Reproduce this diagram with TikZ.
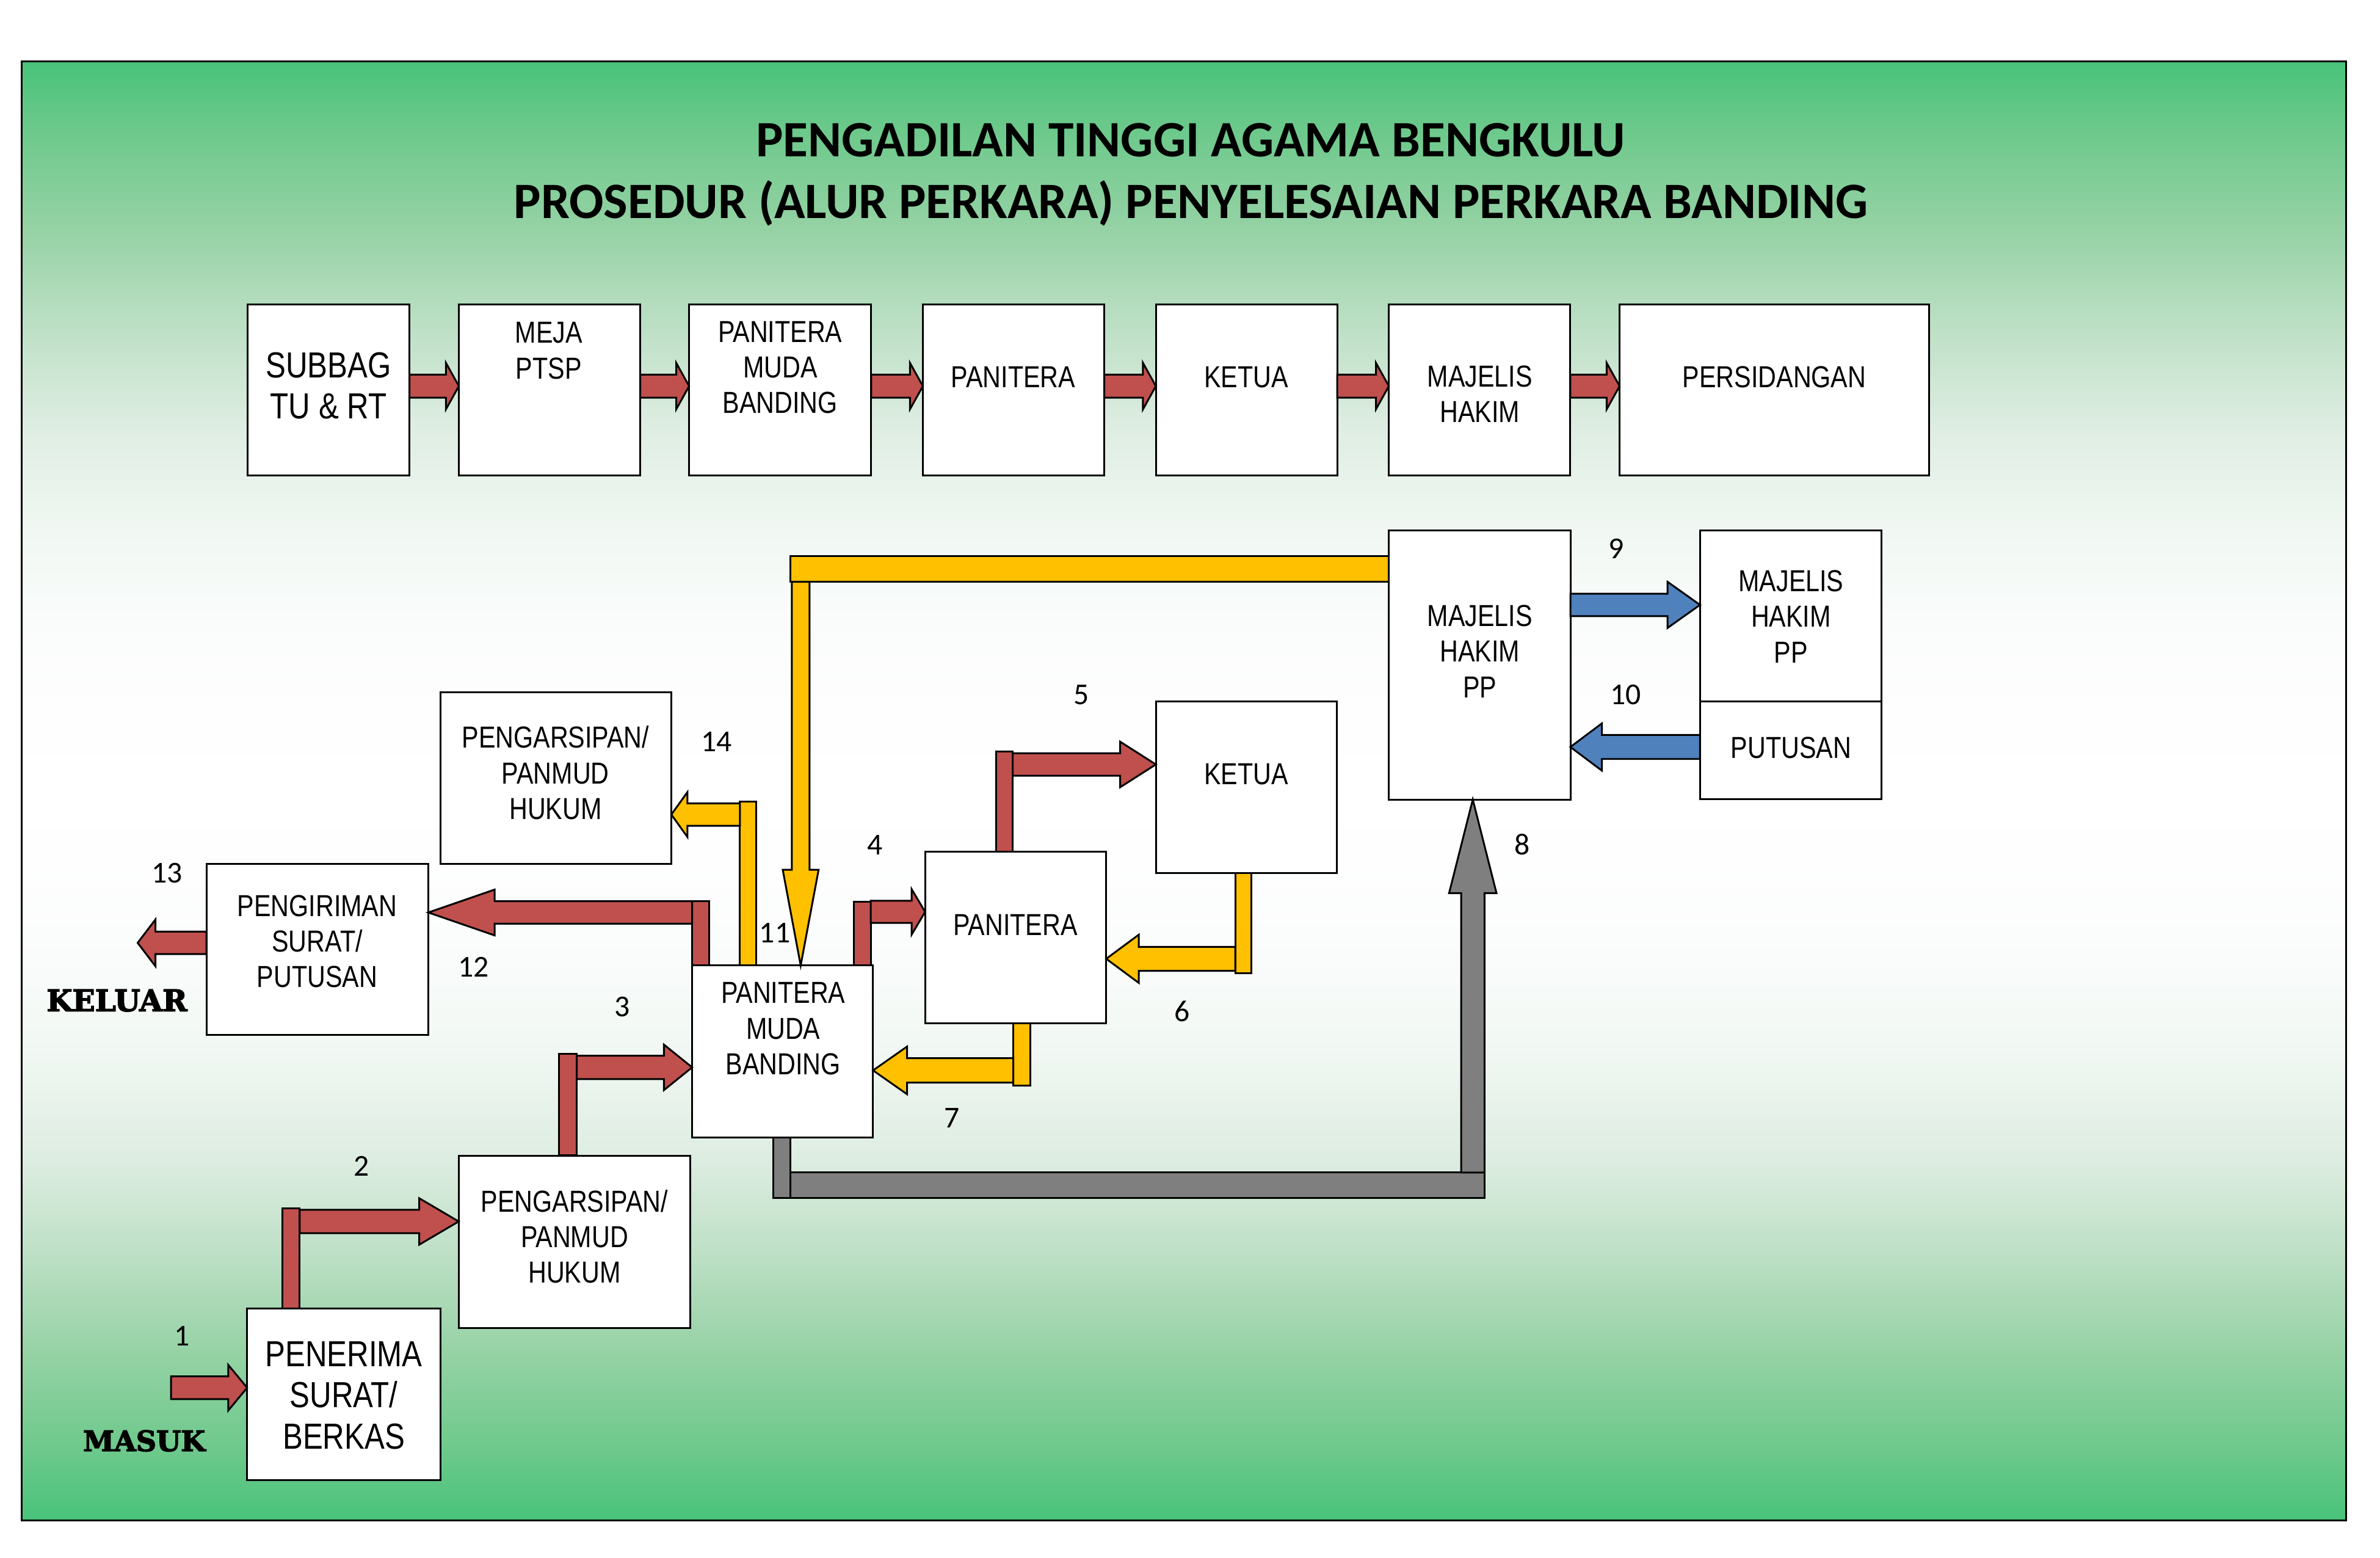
\documentclass[tikz,border=0pt]{standalone}
\usepackage{fontspec}
\usetikzlibrary{calc}
\setmainfont{Liberation Sans}
\newfontfamily\boxfont[FakeStretch=0.83]{Liberation Sans}
\newfontfamily\numfont{Carlito}
\newfontfamily\heavyfont[BoldFeatures={FakeBold=3}]{DejaVu Serif}

\definecolor{panelA}{RGB}{72,195,122}
\definecolor{panelB}{RGB}{110,201,140}
\definecolor{panelC}{RGB}{150,210,165}
\definecolor{panelD}{RGB}{190,224,198}
\definecolor{panelE}{RGB}{222,237,226}
\definecolor{panelF}{RGB}{240,247,242}
\definecolor{panelG}{RGB}{250,252,251}
\definecolor{panelH}{RGB}{254,254,254}
\definecolor{flowred}{RGB}{192,80,77}
\definecolor{flowyellow}{RGB}{255,192,0}
\definecolor{flowblue}{RGB}{79,129,189}
\definecolor{flowgrey}{RGB}{127,127,127}

\pgfdeclareverticalshading{panelshade}{100bp}{color(0bp)=(panelA); color(25bp)=(panelA); color(27.5bp)=(panelB); color(30.8bp)=(panelC); color(34.2bp)=(panelD); color(37.5bp)=(panelE); color(40.9bp)=(panelF); color(44.2bp)=(panelG); color(47.5bp)=(panelH); color(50bp)=(white); color(52.5bp)=(panelH); color(55.8bp)=(panelG); color(59.1bp)=(panelF); color(62.5bp)=(panelE); color(65.8bp)=(panelD); color(69.2bp)=(panelC); color(72.5bp)=(panelB); color(75bp)=(panelA); color(100bp)=(panelA)}

\tikzset{every picture/.style={line width=0.9pt},
	boxnode/.style={draw,fill=white,inner sep=0pt,outer sep=0pt},
	boxtext/.style={inner sep=0pt,align=center,font=\fontsize{15}{17.6}\selectfont\boxfont},
	bigtext/.style={inner sep=0pt,align=center,font=\fontsize{17.9}{20.4}\selectfont\boxfont},
	numtext/.style={inner sep=0pt,font=\fontsize{15}{17}\selectfont\numfont},
	sidetext/.style={inner sep=0pt,font=\fontsize{14.7}{17}\selectfont\heavyfont\bfseries},
	redflow/.style={draw,fill=flowred},
	yellowflow/.style={draw,fill=flowyellow},
	blueflow/.style={draw,fill=flowblue},
	greyflow/.style={draw,fill=flowgrey}
}

%box or bar from its corners
\newcommand{\blok}[6][boxnode]{\node[boxnode,#1,minimum width={(#5-#3)*0.75pt},minimum height={(#6-#4)*0.75pt}] (#2) at ({(#3+#5)/2},{(#4+#6)/2}) {};}
%block arrow between (ta) and (tb): style, shaft, head, head length
\newcommand{\flowpoly}[4]{\coordinate (hb) at ($(tb)!#4*0.75pt!(ta)$);
	\draw [#1] ($(ta)!#2*0.75pt!90:(tb)$) -- ($(hb)!#2*0.75pt!90:(tb)$) -- ($(hb)!#3*0.75pt!90:(tb)$) -- (tb) -- ($(hb)!#3*0.75pt!-90:(tb)$) -- ($(hb)!#2*0.75pt!-90:(tb)$) -- ($(ta)!#2*0.75pt!-90:(tb)$) -- cycle ;}
%style, from, to, y, shaft, head, head length
\newcommand{\hflow}[7]{\coordinate (ta) at (#2 |- 0,#4); \coordinate (tb) at (#3 |- 0,#4); \flowpoly{#1}{#5}{#6}{#7}}
%style, from, to, x, shaft, head, head length
\newcommand{\vflow}[7]{\coordinate (ta) at (#4,0 |- #2); \coordinate (tb) at (#4,0 |- #3); \flowpoly{#1}{#5}{#6}{#7}}

\begin{document}
\begin{tikzpicture}[x=0.75pt,y=0.75pt,yscale=-1,xscale=1]
	\useasboundingbox (0,0) rectangle (1568,1026.1);

	%Shape: Rectangle, green panel
	\draw [shading=panelshade] (14.3,40.3) rectangle (1545.5,1001.5);

	% Text Node
	\node [inner sep=0pt,align=center,font=\fontsize{25.2}{30.5}\selectfont\numfont\bfseries] (judul) at (784.5,115) {PENGADILAN TINGGI AGAMA BENGKULU\\PROSEDUR (ALUR PERKARA) PENYELESAIAN PERKARA BANDING};

	%Shape: top row
	\blok{subbag}{163}{200.4}{269.8}{313}
	\blok{meja}{302.3}{200.4}{421.8}{313}
	\blok{panmudaA}{454}{200.4}{574}{313}
	\blok{paniteraA}{608}{200.4}{727.5}{313}
	\blok{ketuaA}{761.5}{200.4}{881}{313}
	\blok{majelisA}{915}{200.4}{1034.5}{313}
	\blok{sidang}{1067}{200.4}{1271}{313}
	% Text Node
	\node [bigtext] (subbag-t) at (216.5,254) {SUBBAG\\TU \& RT};
	\node [boxtext] (meja-t) at (361.5,231) {MEJA\\PTSP};
	\node [boxtext] (panmudaA-t) at (514,242) {PANITERA\\MUDA\\BANDING};
	\node [boxtext] (paniteraA-t) at (667.5,248.5) {PANITERA};
	\node [boxtext] (ketuaA-t) at (821,248.5) {KETUA};
	\node [boxtext] (majelisA-t) at (975,259.5) {MAJELIS\\HAKIM};
	\node [boxtext] (sidang-t) at (1169,248.5) {PERSIDANGAN};

	%Straight Lines, top row arrows
	\hflow{redflow}{subbag.east}{meja.west}{254.3}{7.6}{15.3}{8.5}
	\hflow{redflow}{meja.east}{panmudaA.west}{254.3}{7.6}{15.3}{8.5}
	\hflow{redflow}{panmudaA.east}{paniteraA.west}{254.3}{7.6}{15.3}{8.5}
	\hflow{redflow}{paniteraA.east}{ketuaA.west}{254.3}{7.6}{15.3}{8.5}
	\hflow{redflow}{ketuaA.east}{majelisA.west}{254.3}{7.6}{15.3}{8.5}
	\hflow{redflow}{majelisA.east}{sidang.west}{254.3}{7.6}{15.3}{8.5}

	%Shape: lower boxes
	\blok{penerima}{162.8}{861.8}{290.2}{974.8}
	\blok{arsipB}{302.2}{761.3}{454.6}{874.6}
	\blok{panmudaB}{456}{635.9}{575.2}{749}
	\blok{kirim}{136}{568.8}{282.2}{681.8}
	\blok{arsipA}{290.2}{456}{442.3}{568.8}
	\blok{paniteraB}{609.5}{560.8}{728.8}{674.1}
	\blok{ketuaB}{761.5}{462}{880.7}{575}
	\blok{majelisB}{915}{349.3}{1034.6}{526.6}
	\blok{majelisC}{1120}{349.3}{1239.6}{461.8}
	\blok{putusan}{1120}{461.8}{1239.6}{526.4}
	% Text Node
	\node [bigtext] (penerima-t) at (226.5,919) {PENERIMA\\SURAT/\\BERKAS};
	\node [boxtext] (arsipB-t) at (378.5,814.5) {PENGARSIPAN/\\PANMUD\\HUKUM};
	\node [boxtext] (panmudaB-t) at (516,677.5) {PANITERA\\MUDA\\BANDING};
	\node [boxtext] (kirim-t) at (209,620) {PENGIRIMAN\\SURAT/\\PUTUSAN};
	\node [boxtext] (arsipA-t) at (366,509) {PENGARSIPAN/\\PANMUD\\HUKUM};
	\node [boxtext] (paniteraB-t) at (669,609) {PANITERA};
	\node [boxtext] (ketuaB-t) at (821,510) {KETUA};
	\node [boxtext] (majelisB-t) at (975,429) {MAJELIS\\HAKIM\\PP};
	\node [boxtext] (majelisC-t) at (1180,406) {MAJELIS\\HAKIM\\PP};
	\node [boxtext] (putusan-t) at (1180,492.5) {PUTUSAN};

	%Straight Lines, red flow
	\coordinate (masuk) at (112.7,914);
	\hflow{redflow}{masuk}{penerima.west}{914}{7.5}{15}{12.4}
	\blok[redflow]{barA}{186}{796}{197.5}{861.8}
	\hflow{redflow}{barA.east}{arsipB.west}{804.5}{7.7}{15.3}{26}
	\blok[redflow]{barB}{368.2}{694}{380}{760.8}
	\hflow{redflow}{barB.east}{panmudaB.west}{703}{7.7}{15}{18.6}
	\blok[redflow]{barC}{562.5}{594}{573.7}{635.9}
	\hflow{redflow}{barC.east}{paniteraB.west}{600.6}{7.3}{15}{8.9}
	\blok[redflow]{barD}{656.4}{494.9}{667.2}{560.8}
	\hflow{redflow}{barD.east}{ketuaB.west}{503.5}{7.4}{15}{23.5}
	\blok[redflow]{barE}{456}{593.5}{467.3}{635.9}
	\hflow{redflow}{barE.west}{kirim.east}{601}{7.4}{15.1}{43.7}
	\coordinate (keluar) at (90.7,621);
	\hflow{redflow}{kirim.west}{keluar}{621}{7.4}{15.4}{11.7}

	%Straight Lines, yellow flow
	\blok[yellowflow]{barF}{813.8}{575}{824.6}{640.9}
	\hflow{yellowflow}{barF.west}{paniteraB.east}{631.5}{7.9}{15.9}{21.5}
	\blok[yellowflow]{barG}{667.6}{674.1}{678.7}{715}
	\hflow{yellowflow}{barG.west}{panmudaB.east}{705}{8}{15.7}{22.4}
	\blok[yellowflow]{barH}{520.6}{366.2}{915}{383.2}
	\vflow{yellowflow}{barH.south}{panmudaB.north}{527.5}{5.8}{11.8}{63}
	\blok[yellowflow]{barJ}{487.5}{527.9}{498.3}{635.9}
	\hflow{yellowflow}{barJ.west}{arsipA.east}{536.5}{7.4}{14.8}{10.6}

	%Straight Lines, grey flow
	\blok[greyflow]{barK}{509.4}{749}{520.6}{789.2}
	\blok[greyflow]{barL}{520.6}{772.3}{978}{789.2}
	\vflow{greyflow}{barL.north}{majelisB.south}{970.3}{7.7}{15.6}{61.6}

	%Straight Lines, blue flow
	\hflow{blueflow}{majelisB.east}{majelisC.west}{398.4}{7.4}{15.2}{21.4}
	\hflow{blueflow}{putusan.west}{majelisB.east}{492}{7.9}{15.6}{20.8}

	% Text Node
	\node [numtext] (no1) at (120,880) {1};
	\node [numtext] (no2) at (238,768) {2};
	\node [numtext] (no3) at (410,663) {3};
	\node [numtext] (no4) at (576.5,556.5) {4};
	\node [numtext] (no5) at (712.5,457.5) {5};
	\node [numtext] (no6) at (779,666) {6};
	\node [numtext] (no7) at (627,736.5) {7};
	\node [numtext] (no8) at (1003,556) {8};
	\node [numtext] (no9) at (1065,361.5) {9};
	\node [numtext] (no10) at (1071,457.5) {10};
	\node [numtext] (no11) at (510.5,614.5) {11};
	\node [numtext] (no12) at (312,637) {12};
	\node [numtext] (no13) at (110,575) {13};
	\node [numtext] (no14) at (472,488.5) {14};
	\node [sidetext] (keluar-t) at (77,659) {KELUAR};
	\node [sidetext,font=\fontsize{13.9}{17}\selectfont\heavyfont\bfseries] (masuk-t) at (95,949) {MASUK};
\end{tikzpicture}
\end{document}
